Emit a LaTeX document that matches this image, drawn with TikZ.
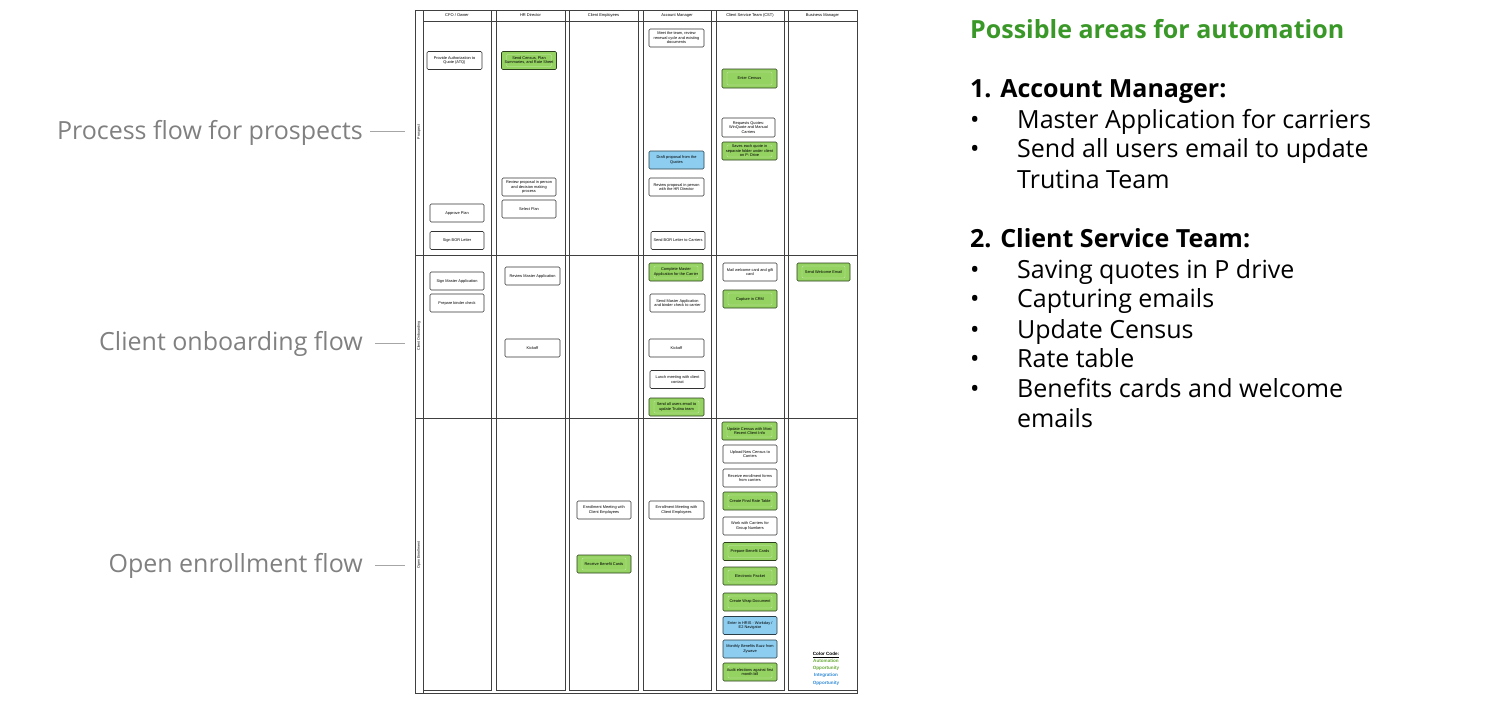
\documentclass[tikz,border=0pt]{standalone}
\usepackage{fontspec}
\setmainfont{Open Sans}
\newfontfamily\boxfont{Liberation Sans}
\usetikzlibrary{positioning}

\definecolor{autogreen}{RGB}{148,210,98}
\definecolor{integblue}{RGB}{141,206,240}
\definecolor{headgreen}{RGB}{58,152,40}
\definecolor{codegreen}{RGB}{104,170,56}
\definecolor{codeblue}{RGB}{52,140,214}
\definecolor{flowgray}{RGB}{128,128,128}

\begin{document}
\begin{tikzpicture} [
		x=1pt, y=-1pt,
		every node/.style={inner sep=0pt},
		lane/.style={draw=black!75, line width=0.7pt},
		lanehead/.style={font=\boxfont\fontsize{4}{4.6}\selectfont},
		rowlabel/.style={font=\boxfont\fontsize{3.6}{4}\selectfont, rotate=90},
		task/.style={draw=black!80, line width=0.6pt, rounded corners=1.2pt, fill=white,
			minimum width=54pt, minimum height=18pt, text width=49pt, align=flush center,
			font=\boxfont\fontsize{3.9}{4.5}\selectfont},
		autobox/.style={task, fill=autogreen, draw=black!70!autogreen,
			path picture={\draw[white!55!autogreen, line width=0.4pt]
				([shift={(5pt,-3pt)}]path picture bounding box.north west) rectangle
				([shift={(-5pt,3pt)}]path picture bounding box.south east);}},
		integbox/.style={task, fill=integblue, draw=black!70!integblue},
		flow/.style={font=\fontsize{25}{30}\selectfont, text=flowgray, anchor=east,
			text height=19.5pt, text depth=0pt},
		flowline/.style={draw=flowgray!70, line width=0.8pt},
		notes/.style={font=\fontsize{25}{30}\selectfont, anchor=west,
			text height=21pt, text depth=0pt},
		notehead/.style={notes, font=\fontsize{25}{30}\selectfont\bfseries}
	]
	\useasboundingbox (0,0) rectangle (1500,705);

	% swimlane frame
	\draw[lane] (415,10) rectangle (857,693);
	\draw[lane] (423,10) -- (423,693);
	\draw[lane] (423,10) rectangle (491,690);
	\draw[lane] (496,10) rectangle (565,690);
	\draw[lane] (569,10) rectangle (638,690);
	\draw[lane] (643,10) rectangle (711,690);
	\draw[lane] (716,10) rectangle (784,690);
	\draw[lane] (788,10) rectangle (857,690);
	\draw[lane] (423,21) -- (857,21);
	\draw[lane, line width=0.9pt] (415,255) -- (857,255);
	\draw[lane, line width=0.9pt] (415,418) -- (857,418);

	\node (hcfo) [lanehead] at (457,15.5) {CFO / Owner};
	\node (hhr) [lanehead] at (530.5,15.5) {HR Director};
	\node (hce) [lanehead] at (603.5,15.5) {Client Employees};
	\node (ham) [lanehead] at (677,15.5) {Account Manager};
	\node (hcst) [lanehead] at (750,15.5) {Client Service Team (CST)};
	\node (hbm) [lanehead] at (822.5,15.5) {Business Manager};

	\node (rprospect) [rowlabel] at (419,132) {Prospect};
	\node (ronboard) [rowlabel] at (419,336) {Client Onboarding};
	\node (renroll) [rowlabel] at (419,555) {Open Enrollment};

	% CFO / Owner
	\node (atq) [task, minimum width=55pt] at (454.5,60.5) {Provide Authorization to Quote (ATQ)};
	\node (approve) [task] at (457,213) {Approve Plan};
	\node (signbor) [task] at (457,240.5) {Sign BOR Letter};
	\node (signmaster) [task] at (457,281) {Sign Master Application};
	\node (binder) [task] at (457,303) {Prepare binder check};

	% HR Director
	\node (sendcensus) [autobox, minimum width=55pt] at (529,60.5) {Send Census, Plan Summaries, and Rate Sheet};
	\node (hrreview) [task] at (529,187) {Review proposal in person and decision making process};
	\node (selectplan) [task] at (529,209) {Select Plan};
	\node (reviewmaster) [task, minimum width=55pt] at (532.5,276) {Review Master Application};
	\node (hrkickoff) [task, minimum width=55pt] at (532.5,348) {Kickoff};

	% Client Employees
	\node (cemeeting) [task] at (604,510) {Enrollment Meeting with Client Employees};
	\node (getcards) [autobox] at (604,564) {Receive Benefit Cards};

	% Account Manager
	\node (meetteam) [task, minimum width=55pt] at (676.5,38) {Meet the team, review renewal cycle and existing documents};
	\node (draft) [integbox, minimum width=55pt] at (676.5,160) {Draft proposal from the Quotes};
	\node (amreview) [task, minimum width=55pt] at (676.5,187) {Review proposal in person with the HR Director};
	\node (sendbor) [task] at (678,240.5) {Send BOR Letter to Carriers};
	\node (completemaster) [autobox] at (676,272) {Complete Master Application for the Carrier};
	\node (sendmaster) [task, minimum width=55pt] at (677.5,303) {Send Master Application and binder check to carrier};
	\node (amkickoff) [task, minimum width=55pt] at (676.5,348) {Kickoff};
	\node (lunch) [task, minimum width=55pt] at (677.5,379.5) {Lunch meeting with client contact};
	\node (allemail) [autobox, minimum width=55pt] at (676.5,407) {Send all users email to update Trutina team};
	\node (ammeeting) [task, minimum width=55pt] at (676.5,510) {Enrollment Meeting with Client Employees};

	% Client Service Team
	\node (entercensus) [autobox, minimum width=55pt, minimum height=19pt] at (749.5,78.5) {Enter Census};
	\node (requests) [task, minimum width=53pt, minimum height=19pt] at (748.5,127.5) {Requests Quotes: WinQuote and Manual Carriers};
	\node (saves) [autobox, minimum width=55pt] at (749.5,151) {Saves each quote in separate folder under client on P: Drive};
	\node (mailcard) [task] at (750,272) {Mail welcome card and gift card};
	\node (crm) [autobox] at (750,299) {Capture in CRM};
	\node (updatecensus) [autobox, minimum width=55pt] at (749.5,431) {Update Census with Most Recent Client Info};
	\node (upload) [task] at (750,454) {Upload New Census to Carriers};
	\node (forms) [task] at (750,478) {Receive enrollment forms from carriers};
	\node (ratetable) [autobox] at (750,501) {Create Final Rate Table};
	\node (groupnum) [task] at (750,526) {Work with Carriers for Group Numbers};
	\node (prepcards) [autobox] at (750,551.5) {Prepare Benefit Cards};
	\node (packet) [autobox] at (750,576) {Electronic Packet};
	\node (wrapdoc) [autobox] at (750,602) {Create Wrap Document};
	\node (hris) [integbox] at (750,625.5) {Enter in HRIS - Workday / E2 Navigator};
	\node (buzz) [integbox] at (750,649) {Monthly Benefits Buzz from Zywave};
	\node (audit) [autobox] at (750,672) {Audit elections against first month bill};

	% Business Manager
	\node (welcome) [autobox, minimum width=53pt] at (823.5,272) {Send Welcome Email};
	\node (colorcode) [align=center, font=\boxfont\bfseries\fontsize{4.6}{7.2}\selectfont] at (826,668.5)
		{\underline{Color Code:}\\ \textcolor{codegreen}{Automation}\\ \textcolor{codegreen}{Opportunity}\\
		\textcolor{codeblue}{Integration}\\ \textcolor{codeblue}{Opportunity}};

	% flow labels
	\node (fprospect) [flow] at (363,130) {Process flow for prospects};
	\node (fonboard) [flow] at (363,341) {Client onboarding flow};
	\node (fenroll) [flow] at (363,563) {Open enrollment flow};
	\coordinate (tprospect) at (405,131);
	\coordinate (tonboard) at (405,343);
	\coordinate (tenroll) at (405,565);
	\draw[flowline] ([xshift=7pt,yshift=-1pt]fprospect.east) -- (tprospect);
	\draw[flowline] ([xshift=12pt,yshift=-2pt]fonboard.east) -- (tonboard);
	\draw[flowline] ([xshift=12pt,yshift=-2pt]fenroll.east) -- (tenroll);

	% automation notes
	\node (areas) [notehead, text=headgreen] at (970,28) {Possible areas for automation};
	\node (amhead) [notehead] at (970,87) {1. Account Manager:};
	\node (b1) [notes] at (970,118) {•};
	\node (n1) [notes] at (1017,118) {Master Application for carriers};
	\node (b2) [notes] at (970,147) {•};
	\node (n2) [notes] at (1017,147) {Send all users email to update};
	\node (n2b) [notes] at (1017,178) {Trutina Team};
	\node (csthead) [notehead] at (970,237) {2. Client Service Team:};
	\node (b3) [notes] at (970,268) {•};
	\node (n3) [notes] at (1017,268) {Saving quotes in P drive};
	\node (b4) [notes] at (970,297) {•};
	\node (n4) [notes] at (1017,297) {Capturing emails};
	\node (b5) [notes] at (970,328) {•};
	\node (n5) [notes] at (1017,328) {Update Census};
	\node (b6) [notes] at (970,357) {•};
	\node (n6) [notes] at (1017,357) {Rate table};
	\node (b7) [notes] at (970,387) {•};
	\node (n7) [notes] at (1017,387) {Benefits cards and welcome};
	\node (n7b) [notes] at (1017,417) {emails};

\end{tikzpicture}
\end{document}
